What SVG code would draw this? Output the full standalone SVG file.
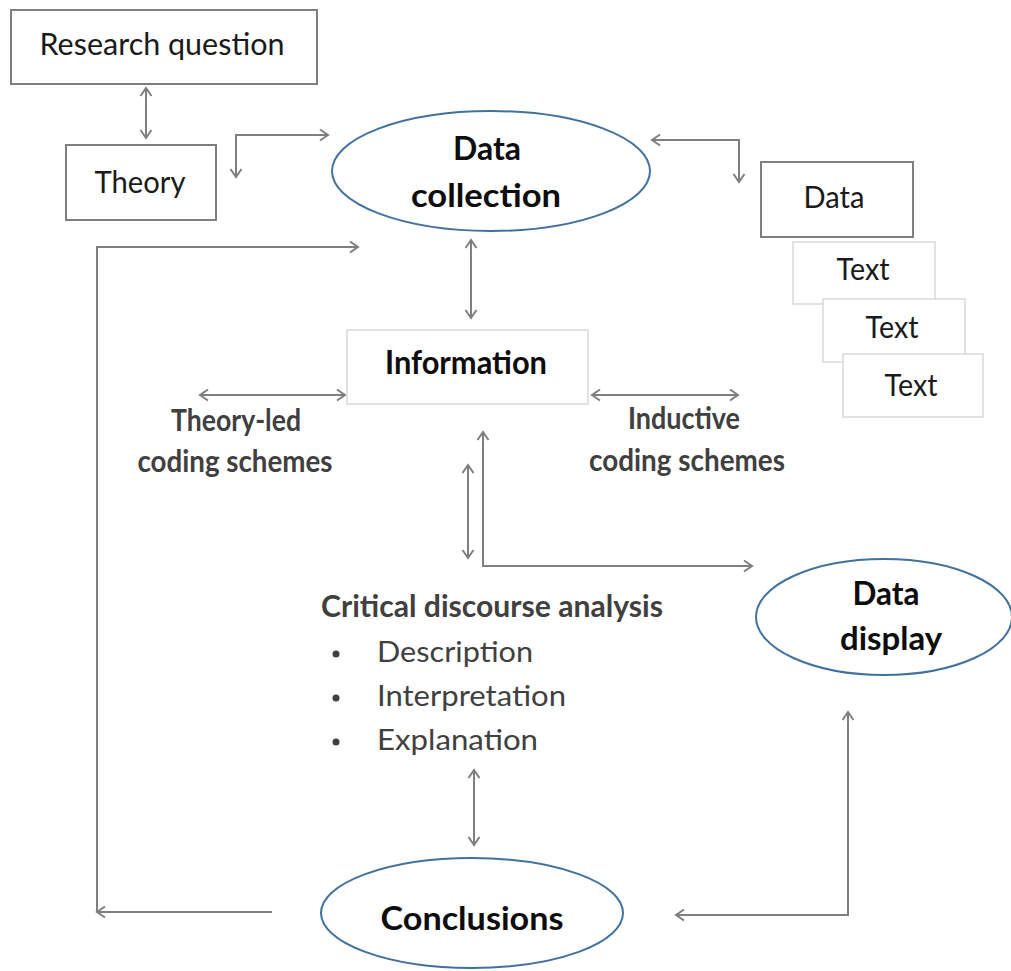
<svg xmlns="http://www.w3.org/2000/svg" width="1011" height="971" viewBox="0 0 1011 971">
  <style>
    .box { fill: #ffffff; stroke: #7f7f7f; stroke-width: 2; }
    .lbox { fill: #ffffff; stroke: #d9d9d9; stroke-width: 1.5; }
    .oval { fill: #ffffff; stroke: #41719c; stroke-width: 2; }
    .conn { fill: none; stroke: #7f7f7f; stroke-width: 2; }
    text { font-family: Lato, "Open Sans", "Liberation Sans", sans-serif; text-anchor: middle; }
    .reg { font-size: 31px; fill: #1a1a1a; }
    .bold { font-size: 33px; font-weight: bold; fill: #0d0d0d; }
    .lab { font-size: 30px; font-weight: bold; fill: #404040; }
    .item { font-size: 29px; fill: #404040; text-anchor: start; }
  </style>
  <defs>
    <marker id="arr" markerUnits="userSpaceOnUse" markerWidth="14" markerHeight="14" refX="10" refY="7" orient="auto-start-reverse">
      <path d="M2,1.5 L10,7 L2,12.5" fill="none" stroke="#7f7f7f" stroke-width="2"/>
    </marker>
  </defs>

  <!-- connectors -->
  <g id="connectors">
    <path class="conn" d="M146,88 V138" marker-start="url(#arr)" marker-end="url(#arr)"/>
    <path class="conn" d="M236,177 V135 H328" marker-start="url(#arr)" marker-end="url(#arr)"/>
    <path class="conn" d="M652,140 H739 V182" marker-start="url(#arr)" marker-end="url(#arr)"/>
    <path class="conn" d="M471,240 V318" marker-start="url(#arr)" marker-end="url(#arr)"/>
    <path class="conn" d="M200,395 H345" marker-start="url(#arr)" marker-end="url(#arr)"/>
    <path class="conn" d="M592,395 H738" marker-start="url(#arr)" marker-end="url(#arr)"/>
    <path class="conn" d="M468,465 V558" marker-start="url(#arr)" marker-end="url(#arr)"/>
    <path class="conn" d="M483,432 V566 H752" marker-start="url(#arr)" marker-end="url(#arr)"/>
    <path class="conn" d="M474,770 V845" marker-start="url(#arr)" marker-end="url(#arr)"/>
    <path class="conn" d="M272,912 H97" marker-end="url(#arr)"/>
    <path class="conn" d="M97,912 V247 H358" marker-end="url(#arr)"/>
    <path class="conn" d="M848,712 V915 H676" marker-start="url(#arr)" marker-end="url(#arr)"/>
  </g>

  <g id="research-question">
    <rect class="box" x="11" y="10" width="306" height="74"/>
    <text class="reg" x="162" y="55" textLength="245" lengthAdjust="spacingAndGlyphs">Research question</text>
  </g>

  <g id="theory">
    <rect class="box" x="66" y="145" width="150" height="75"/>
    <text class="reg" x="140" y="193" textLength="91" lengthAdjust="spacingAndGlyphs">Theory</text>
  </g>

  <g id="data-collection">
    <ellipse class="oval" cx="491" cy="171" rx="159" ry="60"/>
    <text class="bold" x="487" y="160" textLength="68" lengthAdjust="spacingAndGlyphs">Data</text>
    <text class="bold" x="486" y="207" textLength="150" lengthAdjust="spacingAndGlyphs">collection</text>
  </g>

  <g id="data">
    <rect class="box" x="761" y="162" width="152" height="75"/>
    <text class="reg" x="834" y="208" textLength="61" lengthAdjust="spacingAndGlyphs">Data</text>
  </g>

  <g id="text-1">
    <rect class="lbox" x="793" y="242" width="142" height="62"/>
    <text class="reg" x="863" y="280" fill="#262626" textLength="53" lengthAdjust="spacingAndGlyphs">Text</text>
  </g>
  <g id="text-2">
    <rect class="lbox" x="823" y="299" width="142" height="63"/>
    <text class="reg" x="892" y="338" textLength="53" lengthAdjust="spacingAndGlyphs">Text</text>
  </g>
  <g id="text-3">
    <rect class="lbox" x="843" y="354" width="140" height="63"/>
    <text class="reg" x="911" y="396" textLength="53" lengthAdjust="spacingAndGlyphs">Text</text>
  </g>

  <g id="information">
    <rect class="lbox" x="347" y="330" width="241" height="74"/>
    <text class="bold" x="466" y="374" font-size="30" textLength="162" lengthAdjust="spacingAndGlyphs">Information</text>
  </g>

  <g id="theory-led">
    <text class="lab" x="236" y="431" textLength="130" lengthAdjust="spacingAndGlyphs">Theory-led</text>
    <text class="lab" x="235" y="472" textLength="195" lengthAdjust="spacingAndGlyphs">coding schemes</text>
  </g>

  <g id="inductive">
    <text class="lab" x="684" y="429" textLength="112" lengthAdjust="spacingAndGlyphs">Inductive</text>
    <text class="lab" x="687" y="471" textLength="196" lengthAdjust="spacingAndGlyphs">coding schemes</text>
  </g>

  <g id="critical-discourse-analysis">
    <text class="lab" x="492" y="617" font-size="29" textLength="342" lengthAdjust="spacingAndGlyphs">Critical discourse analysis</text>
    <circle cx="336" cy="654" r="3.5" fill="#404040"/>
    <circle cx="336" cy="698" r="3.5" fill="#404040"/>
    <circle cx="336" cy="742" r="3.5" fill="#404040"/>
    <text class="item" x="377" y="662" textLength="156" lengthAdjust="spacingAndGlyphs">Description</text>
    <text class="item" x="377" y="706" textLength="189" lengthAdjust="spacingAndGlyphs">Interpretation</text>
    <text class="item" x="377" y="750" textLength="161" lengthAdjust="spacingAndGlyphs">Explanation</text>
  </g>

  <g id="data-display">
    <ellipse class="oval" cx="884" cy="617" rx="128" ry="58"/>
    <text class="bold" x="886" y="605" textLength="67" lengthAdjust="spacingAndGlyphs">Data</text>
    <text class="bold" x="891" y="650" textLength="102" lengthAdjust="spacingAndGlyphs">display</text>
  </g>

  <g id="conclusions">
    <ellipse class="oval" cx="472" cy="913" rx="151" ry="55"/>
    <text class="bold" x="472" y="930" font-size="36" textLength="183" lengthAdjust="spacingAndGlyphs">Conclusions</text>
  </g>
</svg>
